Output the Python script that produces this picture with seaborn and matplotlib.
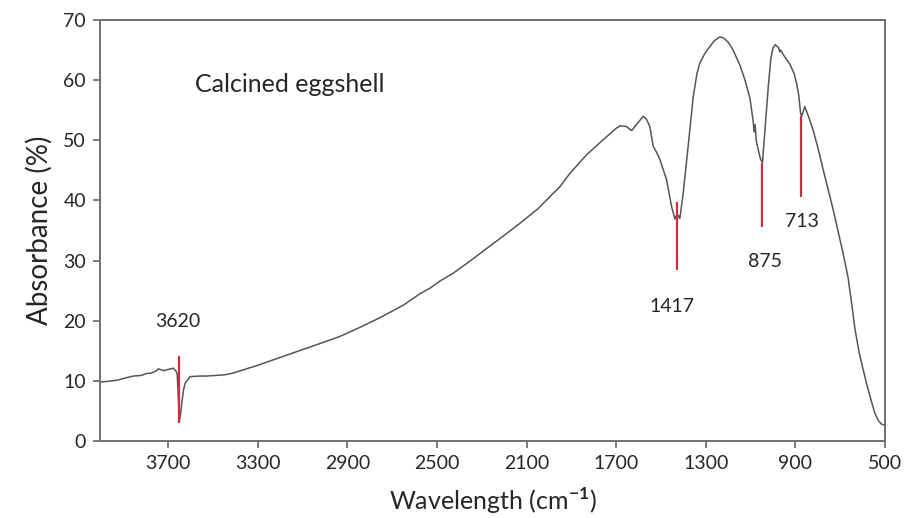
import matplotlib
matplotlib.use("Agg")
import matplotlib.pyplot as plt
import seaborn as sns
import pandas as pd

# FTIR spectrum of calcined eggshell (axis position, absorbance %)
wavenumber = [4005, 3975, 3930, 3900, 3856, 3820, 3800, 3775, 3752, 3745, 3720, 3700,
              3678, 3665, 3660, 3655, 3651, 3645, 3640, 3632, 3625, 3603, 3560,
              3529, 3450, 3410, 3300, 3200, 3100, 3000, 2933, 2850, 2755, 2650,
              2576, 2532, 2487, 2428, 2350, 2279, 2200, 2130, 2050, 1981, 1951,
              1907, 1832, 1758, 1700, 1683, 1655, 1631, 1610, 1579, 1565, 1550,
              1535, 1520, 1505, 1475, 1453, 1438, 1433, 1428, 1422, 1416, 1401,
              1379, 1356, 1340, 1327, 1305, 1282, 1260, 1237, 1220, 1200, 1178,
              1148, 1125, 1103, 1088, 1085, 1080, 1075, 1066, 1055, 1047, 1036,
              1021, 1010, 1000, 990, 975, 970, 966, 950, 924, 905, 895, 885, 877,
              872, 858, 840, 821, 800, 776, 731, 700, 687, 665, 649, 634, 615,
              597, 580, 560, 545, 530, 515, 500]
absorbance = [9.8, 9.9, 10.1, 10.4, 10.8, 10.9, 11.2, 11.3, 11.7, 12.0, 11.7, 11.9,
              12.1, 11.6, 11.0, 7.0, 3.3, 4.5, 6.3, 8.5, 9.6, 10.7, 10.8,
              10.8, 11.0, 11.3, 12.6, 13.9, 15.2, 16.5, 17.4, 18.8, 20.5, 22.6,
              24.5, 25.4, 26.6, 27.9, 30.0, 32.0, 34.2, 36.2, 38.6, 41.2, 42.3,
              44.5, 47.6, 50.1, 52.0, 52.4, 52.3, 51.6, 52.6, 54.0, 53.5, 52.3,
              49.0, 48.0, 46.8, 43.4, 39.0, 36.9, 37.4, 37.0, 37.5, 37.0, 41.2,
              49.0, 57.3, 61.0, 62.8, 64.4, 65.6, 66.6, 67.2, 67.0, 66.3, 65.0,
              62.5, 60.0, 57.0, 53.0, 51.4, 52.6, 50.0, 48.4, 46.8, 46.3, 51.7,
              59.0, 63.5, 65.4, 65.9, 65.4, 64.7, 65.0, 64.0, 62.6, 61.0, 59.5, 57.5, 54.5,
              54.0, 55.6, 53.8, 51.7, 48.8, 45.1, 38.4, 33.3, 31.2, 27.2, 22.9, 18.6, 14.6,
              11.8, 9.2, 6.5, 4.6, 3.4, 2.8, 2.6]

# Band markers: label, axis position, lower and upper end of the red bar,
# and where the label sits
band_labels = ["3620", "1417", "875", "713"]
band_x = [3651, 1430, 1047, 875]
band_low = [3.0, 28.5, 35.5, 40.6]
band_high = [14.1, 39.7, 46.3, 54.0]
label_x = [3656, 1451, 1034, 872]
label_y = [19.8, 22.3, 29.8, 36.5]

x_ticks = [3700, 3300, 2900, 2500, 2100, 1700, 1300, 900, 500]
y_ticks = [0, 10, 20, 30, 40, 50, 60, 70]

sns.set_theme(style="ticks")
plt.rcParams["font.family"] = ["Lato", "DejaVu Sans"]
plt.rcParams["mathtext.fontset"] = "custom"
plt.rcParams["mathtext.rm"] = "Lato"
plt.rcParams["mathtext.bf"] = "Lato:bold"

spec = pd.DataFrame({"wavenumber": wavenumber, "absorbance": absorbance})

fig = plt.figure(figsize=(9.07, 5.18), dpi=100)
ax = fig.add_axes([100 / 907, 1 - 441 / 518, 785 / 907, 421 / 518])

sns.lineplot(data=spec, x="wavenumber", y="absorbance", ax=ax,
             color="#555555", linewidth=1.1, sort=False)

ax.vlines(band_x, band_low, band_high, colors="#d42a3a", linewidth=1.6, zorder=3)
for lab, lx, ly in zip(band_labels, label_x, label_y):
    ax.text(lx, ly, lab, ha="center", va="center", fontsize=14, color="#262626")

ax.text(3581, 59.2, "Calcined eggshell", ha="left", va="center",
        fontsize=18, color="#262626")

ax.set_xlim(4005, 500)
ax.set_ylim(0, 70)
ax.set_xticks(x_ticks)
ax.set_yticks(y_ticks)
ax.tick_params(axis="both", direction="out", length=5, width=1.3,
               color="#707070", labelsize=14, labelcolor="#262626", pad=5)

for side in ["left", "bottom", "top", "right"]:
    ax.spines[side].set_visible(True)
    ax.spines[side].set_color("#707070")
    ax.spines[side].set_linewidth(1.4)

ax.set_xlabel("Wavelength (cm$^{\\mathbf{-1}}$)", fontsize=18, color="#262626", labelpad=10)
ax.set_ylabel("Absorbance (%)", fontsize=20, color="#262626", labelpad=8)

fig.savefig("out.png", dpi=100)
